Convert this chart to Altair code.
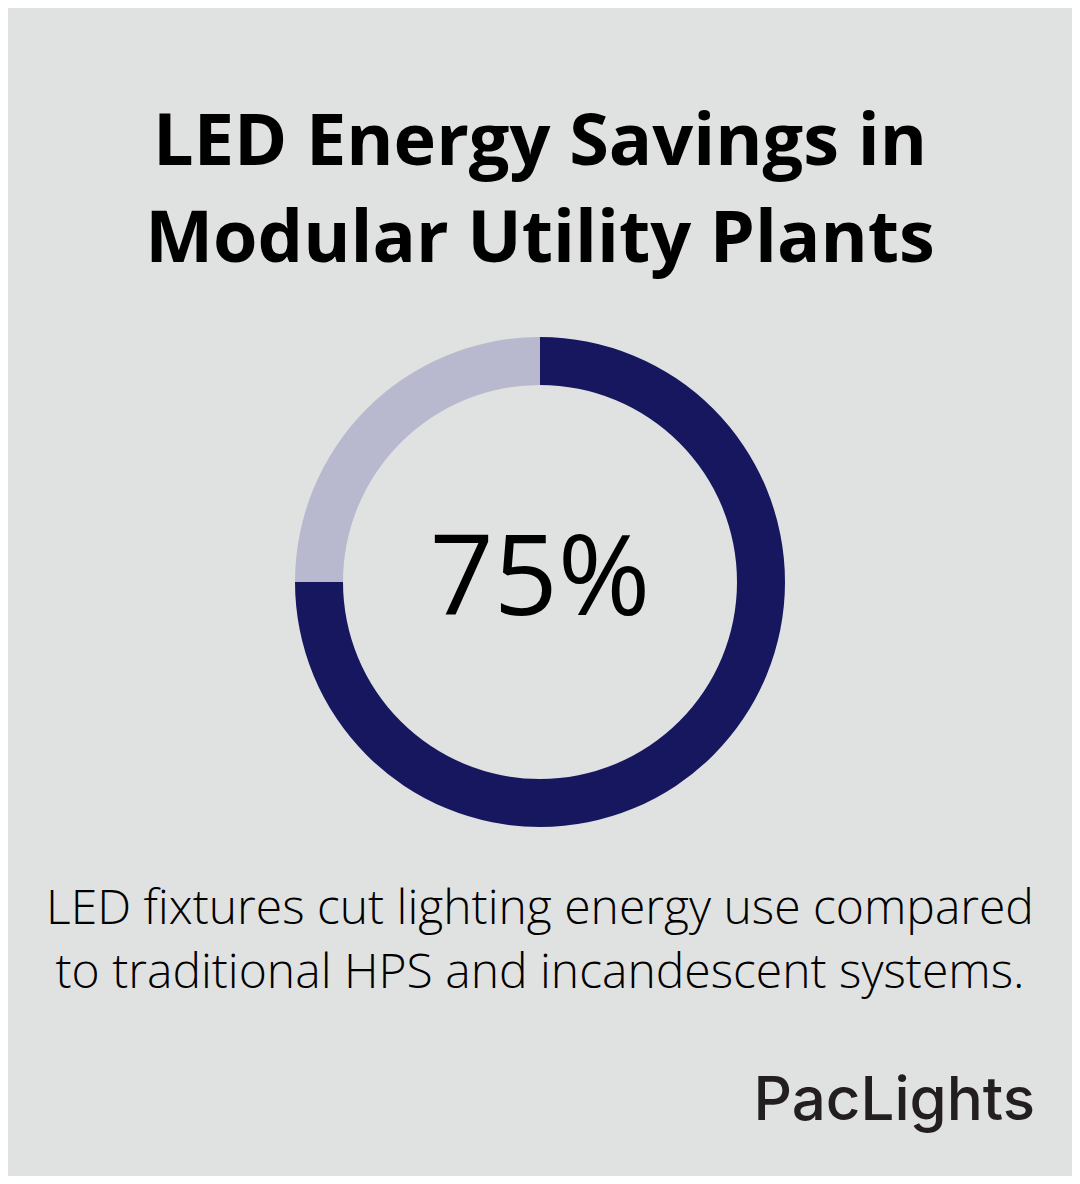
import altair as alt
import pandas as pd

title_lines = ["LED Energy Savings in", "Modular Utility Plants"]
subtitle_lines = ["LED fixtures cut lighting energy use compared",
                  "to traditional HPS and incandescent systems."]
segments = ["LED savings", "Remaining"]
values = [75, 25]
colors = ["#17175f", "#b8b9ce"]
center_label = "75%"
brand = "PacLights"

W, H = 1064, 1168
CX, CY = 532, 574
BG = "#e0e2e1"

donut_df = pd.DataFrame({"segment": segments, "value": values, "order": [0, 1]})

donut = alt.Chart(donut_df).mark_arc(radius=245, radius2=197, stroke=None).encode(
    theta=alt.Theta("value:Q", stack=True),
    order=alt.Order("order:Q"),
    color=alt.Color("segment:N", scale=alt.Scale(domain=segments, range=colors), legend=None),
    x=alt.value(CX),
    y=alt.value(CY),
)

def text_layer(txt, x, y, size, weight, font, align="center", color="#000000"):
    return alt.Chart(pd.DataFrame({"t": [txt]})).mark_text(
        font=font, fontSize=size, fontWeight=weight, align=align,
        baseline="alphabetic", color=color,
    ).encode(text="t:N", x=alt.value(x), y=alt.value(y))

layers = [donut]
layers.append(text_layer(title_lines[0], CX, 157, 72, 700, "Open Sans"))
layers.append(text_layer(title_lines[1], CX, 254, 72, 700, "Open Sans"))
layers.append(text_layer(center_label, CX, 607, 112, 500, "Open Sans"))
layers.append(text_layer(subtitle_lines[0], CX, 916, 48, 300, "Open Sans"))
layers.append(text_layer(subtitle_lines[1], CX, 980, 48, 300, "Open Sans"))
layers.append(text_layer(brand, 1027, 1112, 60, 500, "Inter", align="right", color="#231f20"))

chart = alt.layer(*layers).properties(
    width=W, height=H, background=BG, padding=0,
    autosize=alt.AutoSizeParams(type="none"),
).configure_view(stroke=None)

chart.save("out.html", embed_options={"renderer": "svg", "actions": False})
